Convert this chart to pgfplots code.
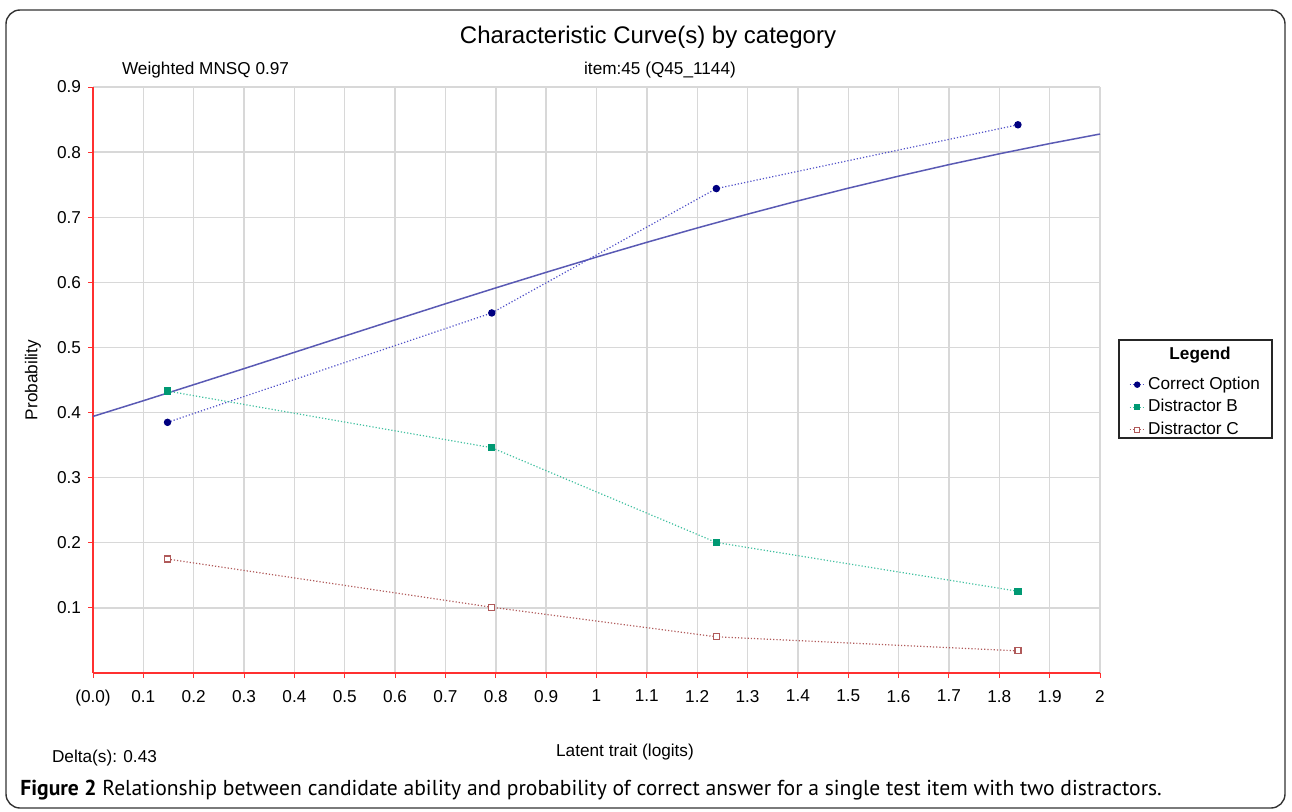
\documentclass[border=0pt]{standalone}
\usepackage{fontspec}
\setmainfont{Liberation Sans}
\newfontfamily\capfont{PT Sans}
\usepackage{pgfplots}
\pgfplotsset{compat=1.18}
\definecolor{curveblue}{HTML}{5A5AB4}
\definecolor{optblue}{HTML}{5050C8}
\definecolor{optmark}{HTML}{000080}
\definecolor{distB}{HTML}{40C0A0}
\definecolor{distBmark}{HTML}{009973}
\definecolor{distC}{HTML}{B05A5A}
\definecolor{axred}{HTML}{FF3030}
\definecolor{gridgray}{HTML}{D8D8D8}
\newcommand{\chartfont}{\fontsize{8.6}{10}\selectfont}

\begin{document}
\begin{tikzpicture}[x=0.5pt,y=0.5pt]
\path[use as bounding box] (0,0) rectangle (1292,811);
\draw[black!80, line width=0.7pt, rounded corners=7pt] (6,801) rectangle (1285,3);

\begin{axis}[
    at={(46.5pt,69pt)}, anchor=south west,
    scale only axis, width=503.5pt, height=293pt,
    xmin=0, xmax=2, ymin=0, ymax=0.9,
    xtick={0,0.1,0.2,0.3,0.4,0.5,0.6,0.7,0.8,0.9,1,1.1,1.2,1.3,1.4,1.5,1.6,1.7,1.8,1.9,2},
    xticklabels={(0.0),0.1,0.2,0.3,0.4,0.5,0.6,0.7,0.8,0.9,1,1.1,1.2,1.3,1.4,1.5,1.6,1.7,1.8,1.9,2},
    ytick={0.1,0.2,0.3,0.4,0.5,0.6,0.7,0.8,0.9},
    yticklabels={0.1,0.2,0.3,0.4,0.5,0.6,0.7,0.8,0.9},
    axis x line*=bottom, axis y line*=left,
    axis line style={axred, line width=1pt, -},
    tick style={axred, line width=0.5pt},
    tick align=outside, major tick length=2.5pt,
    grid=major, grid style={gridgray, line width=0.7pt},
    tick label style={font=\chartfont},
    /pgf/number format/assume math mode=true,
    xticklabel style={yshift=-2.5pt},
    clip=false,
    legend style={at={(axis description cs:1.0285,0.512)}, anchor=north west,
        draw=none, fill=none, inner sep=0pt, row sep=0pt,
        font=\chartfont, nodes={inner sep=1.4pt, text height=6.5pt, text depth=2pt}},
    legend cell align=left,
    legend image code/.code={\draw[#1, mark size=1.3pt, mark repeat=2, mark phase=2] plot coordinates {(0pt,0pt) (3.75pt,0pt) (7.5pt,0pt)};},
]
% model curve
\addplot[curveblue, line width=0.75pt, forget plot] coordinates {
(0,0.3941)(0.1,0.4182)(0.2,0.4428)(0.3,0.4675)(0.4,0.4925)(0.5,0.5175)(0.6,0.5424)
(0.7,0.5671)(0.8,0.5915)(0.9,0.6154)(1.0,0.6388)(1.1,0.6615)(1.2,0.6835)(1.3,0.7047)
(1.4,0.7251)(1.5,0.7446)(1.6,0.7631)(1.7,0.7808)(1.8,0.7974)(1.9,0.8131)(2.0,0.8278)};
% observed
\addplot[optblue, line width=0.6pt, densely dotted, mark=*, mark size=1.55pt,
    mark options={solid, fill=optmark, draw=optmark}]
    coordinates {(0.148,0.385)(0.792,0.553)(1.238,0.744)(1.837,0.842)};
\addlegendentry{Correct Option}
\addplot[distB, line width=0.6pt, densely dotted, mark=square*, mark size=1.5pt,
    mark options={solid, fill=distBmark, draw=distBmark}]
    coordinates {(0.148,0.433)(0.792,0.346)(1.238,0.2005)(1.837,0.1255)};
\addlegendentry{Distractor B}
\addplot[distC, line width=0.6pt, densely dotted, mark=square*, mark size=1.5pt,
    mark options={solid, fill=white, draw=distC}]
    coordinates {(0.148,0.175)(0.792,0.101)(1.238,0.0556)(1.837,0.034)};
\addlegendentry{Distractor C}
\end{axis}

\node[font=\fontsize{12}{14}\selectfont] at (648,774) {Characteristic Curve(s) by category};
\node[font=\chartfont, anchor=west] at (115,741) {Weighted MNSQ 0.97};
\node[font=\chartfont] at (660,741) {item:45 (Q45\_1144)};
\node[font=\chartfont, rotate=90] at (33,431) {Probability};
\node[font=\chartfont] at (625,59) {Latent trait (logits)};
\node[font=\chartfont, anchor=west] at (45,53) {Delta(s): 0.43};
\draw[black!85, line width=0.6pt] (1119,471) rectangle (1272,373);
\node[font=\chartfont\bfseries] at (1200,456) {Legend};
\node[font=\capfont\fontsize{10.8}{13}\selectfont, anchor=west, inner sep=0pt] at (20,21)
  {\textbf{Figure 2} Relationship between candidate ability and probability of correct answer for a single test item with two distractors.};
\end{tikzpicture}
\end{document}
